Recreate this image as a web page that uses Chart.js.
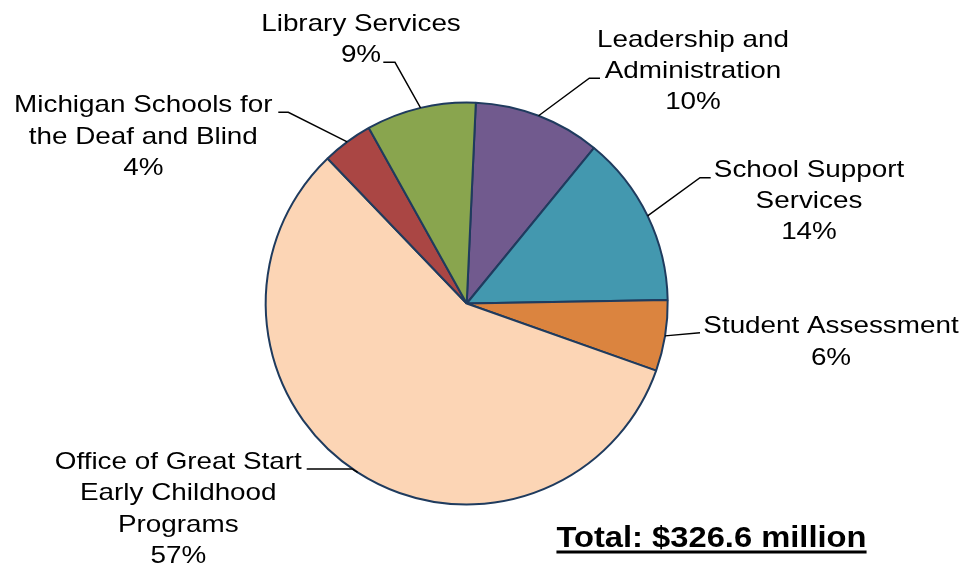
<!DOCTYPE html>
<html>
<head>
<meta charset="utf-8">
<script src="https://cdn.jsdelivr.net/npm/chart.js@4/dist/chart.umd.min.js"></script>
<style>
  html, body { margin: 0; padding: 0; background: #ffffff; }
  #wrap { width: 964px; height: 566px; position: relative; }
</style>
</head>
<body>
<div id="wrap"><canvas id="budget" width="964" height="566"></canvas></div>
<script>
// Budget areas (label lines) and appropriations in millions of dollars
const categories = [
  ['Leadership and', 'Administration'],
  ['School Support', 'Services'],
  ['Student Assessment'],
  ['Office of Great Start', 'Early Childhood', 'Programs'],
  ['Michigan Schools for', 'the Deaf and Blind'],
  ['Library Services']
];
const amounts = [33.3, 45.1, 18.6, 187.5, 13.3, 28.8];

// Slice fills
const sliceColors = ['#715A8E', '#4398AF', '#DB843F', '#FCD5B5', '#AA4644', '#89A54E'];

// Where each callout sits: text centre x, first baseline, leader elbow and leader end
const calloutLayout = [
  { x: 693,   y: 46.7,  elbow: [589.3, 78.3],  end: [600.0, 78.3] },
  { x: 809,   y: 176.7, elbow: [700.0, 177.7], end: [710.7, 177.7] },
  { x: 831,   y: 333.3, elbow: [700.0, 332.7], end: [700.0, 332.7] },
  { x: 178.3, y: 469.0, elbow: [352.0, 469.0], end: [306.7, 469.0] },
  { x: 143.3, y: 112.3, elbow: [288.3, 112.3], end: [278.3, 112.3] },
  { x: 361,   y: 31.0,  elbow: [395.0, 62.3],  end: [383.3, 62.3] }
];

const total = amounts.reduce((a, b) => a + b, 0);
const FONT = '"Liberation Sans", Arial, Helvetica, sans-serif';
const TEXT_SX = 1.16;     // horizontal stretch of callout text
const LINE_H = 31.3;

function stretchedText(ctx, str, x, y, sx) {
  ctx.save();
  ctx.translate(x, y);
  ctx.scale(sx, 1);
  ctx.fillText(str, 0, 0);
  ctx.restore();
}

const calloutPlugin = {
  id: 'callouts',
  afterDatasetsDraw(chart) {
    const ctx = chart.ctx;
    const meta = chart.getDatasetMeta(0);
    ctx.save();
    // leader lines from the middle of each slice's rim
    ctx.strokeStyle = '#000000';
    ctx.lineWidth = 1.4;
    meta.data.forEach((arc, i) => {
      const p = arc.getProps(['x', 'y', 'startAngle', 'endAngle', 'outerRadius'], true);
      const mid = (p.startAngle + p.endAngle) / 2;
      const sx = p.x + Math.cos(mid) * p.outerRadius;
      const sy = p.y + Math.sin(mid) * p.outerRadius;
      const L = calloutLayout[i];
      ctx.beginPath();
      ctx.moveTo(sx, sy);
      ctx.lineTo(L.elbow[0], L.elbow[1]);
      ctx.lineTo(L.end[0], L.end[1]);
      ctx.stroke();
    });
    // callout text: category lines plus share of total
    ctx.fillStyle = '#000000';
    ctx.textAlign = 'center';
    ctx.textBaseline = 'alphabetic';
    ctx.font = '24px ' + FONT;
    categories.forEach((lines, i) => {
      const L = calloutLayout[i];
      const pct = Math.round(amounts[i] / total * 100) + '%';
      lines.concat([pct]).forEach((t, k) => {
        stretchedText(ctx, t, L.x, L.y + k * LINE_H, TEXT_SX);
      });
    });
    // total note, bold and underlined
    const note = 'Total: $' + total.toFixed(1) + ' million';
    ctx.font = 'bold 30px ' + FONT;
    const nx = 711.5, ny = 546.7, nsx = 1.09;
    stretchedText(ctx, note, nx, ny, nsx);
    const w = ctx.measureText(note).width * nsx;
    ctx.fillRect(nx - w / 2, 550.5, w, 3);
    ctx.restore();
  }
};

new Chart(document.getElementById('budget'), {
  type: 'pie',
  data: {
    labels: categories,
    datasets: [{
      data: amounts,
      backgroundColor: sliceColors,
      borderColor: '#1F3B5E',
      borderWidth: 2,
      radius: 201,
      rotation: 2.6
    }]
  },
  options: {
    responsive: false,
    animation: false,
    layout: { padding: { left: 200, right: 230.6, top: 80, bottom: 39 } },
    plugins: {
      legend: { display: false },
      tooltip: { enabled: false }
    }
  },
  plugins: [calloutPlugin]
});
</script>
</body>
</html>
